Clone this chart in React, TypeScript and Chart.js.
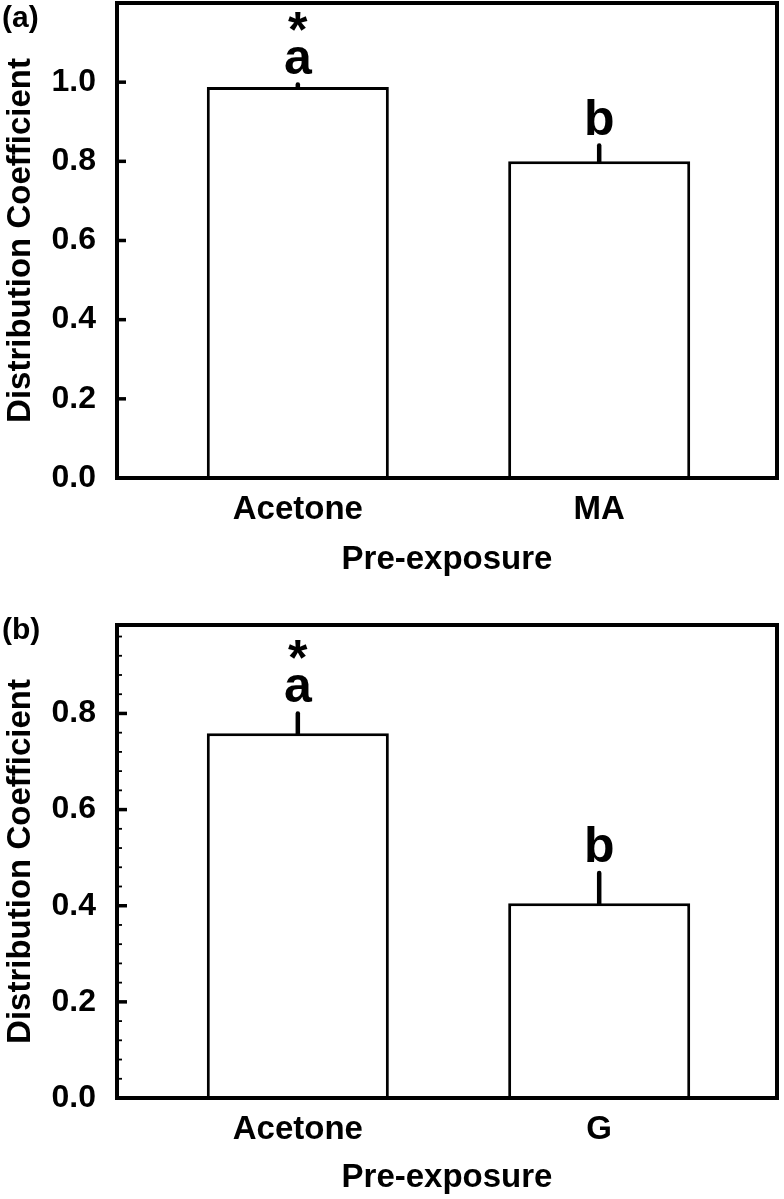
import React, { useEffect, useRef } from 'react';
import { Chart, registerables } from 'chart.js';

Chart.register(...registerables);

const FONT = '"Liberation Sans", Arial, Helvetica, sans-serif';
Chart.defaults.font.family = FONT;
Chart.defaults.color = '#000';

// ---------- data ----------
const xAxisTitle = 'Pre-exposure';
const yAxisTitle = 'Distribution Coefficient';

const categoriesA = ['Acetone', 'MA'];
const meansA = [0.988, 0.8];
const errorsA = [0.006, 0.04];
const lettersA = ['a', 'b'];
const marksA = ['*', ''];
const yMaxA = 1.2;

const categoriesB = ['Acetone', 'G'];
const meansB = [0.759, 0.405];
const errorsB = [0.041, 0.063];
const lettersB = ['a', 'b'];
const marksB = ['*', ''];
const yMaxB = 0.984;

const yStep = 0.2;
const minorStepB = 0.04;

type PanelCfg = {
  label: string;
  categories: string[];
  means: number[];
  errors: number[];
  letters: string[];
  marks: string[];
  yMax: number;
  minorStep: number | null;
  top: number;
  height: number;
  padTop: number;
  xAxisHeight: number;
  xTitlePad: number;
  labelBaseline: number;
  majorLen: number;
};

const panels: PanelCfg[] = [
  {
    label: '(a)', categories: categoriesA, means: meansA, errors: errorsA,
    letters: lettersA, marks: marksA, yMax: yMaxA, minorStep: null,
    top: 0, height: 600, padTop: 3, xAxisHeight: 122, xTitlePad: 24, labelBaseline: 27, majorLen: 9,
  },
  {
    label: '(b)', categories: categoriesB, means: meansB, errors: errorsB,
    letters: lettersB, marks: marksB, yMax: yMaxB, minorStep: minorStepB,
    top: 600, height: 599, padTop: 25, xAxisHeight: 101, xTitlePad: 5, labelBaseline: 39, majorLen: 10,
  },
];

function makePlugin(cfg: PanelCfg) {
  return {
    id: 'panelDecor' + cfg.label,
    afterDatasetsDraw(chart: any) {
      const { ctx, chartArea } = chart;
      const y = chart.scales.y;
      const meta = chart.getDatasetMeta(0);
      ctx.save();
      ctx.strokeStyle = '#000';
      ctx.fillStyle = '#000';

      // error bars + letters
      cfg.means.forEach((m, i) => {
        const bar = meta.data[i];
        if (!bar) return;
        const x = bar.x;
        const y0 = y.getPixelForValue(m);
        const y1 = y.getPixelForValue(m + cfg.errors[i]);
        ctx.beginPath();
        ctx.lineWidth = 4.5;
        ctx.lineCap = 'round';
        ctx.moveTo(x, y0);
        ctx.lineTo(x, y1);
        ctx.stroke();
        ctx.font = `bold 50px ${FONT}`;
        ctx.textAlign = 'center';
        ctx.textBaseline = 'alphabetic';
        const base = y1 - 11;
        ctx.fillText(cfg.letters[i], x, base);
        if (cfg.marks[i]) ctx.fillText(cfg.marks[i], x, base - 27);
      });

      // frame
      ctx.lineCap = 'butt';
      ctx.lineWidth = 4;
      ctx.strokeRect(chartArea.left, chartArea.top, chartArea.right - chartArea.left, chartArea.bottom - chartArea.top);

      // inward major ticks
      ctx.lineWidth = 3.5;
      y.ticks.forEach((t: any) => {
        const py = y.getPixelForValue(t.value);
        ctx.beginPath();
        ctx.moveTo(chartArea.left, py);
        ctx.lineTo(chartArea.left + cfg.majorLen, py);
        ctx.stroke();
      });
      // minor ticks
      if (cfg.minorStep) {
        ctx.lineWidth = 1.8;
        const n = Math.floor(cfg.yMax / cfg.minorStep + 1e-6);
        for (let k = 1; k <= n; k++) {
          const v = k * cfg.minorStep;
          if (Math.abs(v / yStep - Math.round(v / yStep)) < 1e-6) continue;
          const py = y.getPixelForValue(v);
          ctx.beginPath();
          ctx.moveTo(chartArea.left, py);
          ctx.lineTo(chartArea.left + 5, py);
          ctx.stroke();
        }
      }

      // panel label
      ctx.font = `bold 30px ${FONT}`;
      ctx.textAlign = 'left';
      ctx.textBaseline = 'alphabetic';
      ctx.fillText(cfg.label, 2, cfg.labelBaseline);
      ctx.restore();
    },
  };
}

function Panel({ cfg }: { cfg: PanelCfg }) {
  const ref = useRef<HTMLCanvasElement | null>(null);
  useEffect(() => {
    if (!ref.current) return;
    const chart = new Chart(ref.current, {
      type: 'bar',
      data: {
        datasets: [
          {
            data: cfg.categories.map((_, i) => ({ x: i + 1, y: cfg.means[i] })),
            backgroundColor: '#ffffff',
            borderColor: '#000000',
            borderWidth: 3,
            borderSkipped: 'start',
            categoryPercentage: 1,
            barPercentage: 0.604,
          } as any,
        ],
      },
      options: {
        animation: false,
        responsive: false,
        layout: { padding: { top: cfg.padTop, right: 7, left: 0, bottom: 0 } },
        plugins: { legend: { display: false }, tooltip: { enabled: false } },
        scales: {
          x: {
            type: 'linear',
            offset: false,
            min: 0.4,
            max: 2.59,
            grid: { display: false, drawTicks: false, offset: false },
            border: { display: false },
            afterBuildTicks: (s: any) => {
              s.ticks = cfg.categories.map((_, i) => ({ value: i + 1 }));
            },
            afterFit: (s: any) => {
              s.height = cfg.xAxisHeight;
              s.paddingLeft = 0;
              s.paddingRight = 0;
            },
            ticks: {
              autoSkip: false,
              maxRotation: 0,
              padding: 15,
              color: '#000',
              font: { size: 33, weight: 'bold', lineHeight: 1 },
              callback: (v: any) => cfg.categories[Math.round(Number(v)) - 1] ?? null,
            },
            title: {
              display: true,
              text: xAxisTitle,
              color: '#000',
              font: { size: 33, weight: 'bold', lineHeight: 1 },
              padding: { top: 0, bottom: cfg.xTitlePad },
            },
          },
          y: {
            type: 'linear',
            min: 0,
            max: cfg.yMax,
            grid: { display: false, drawTicks: false },
            border: { display: false },
            afterFit: (s: any) => {
              s.width = 117;
              s.paddingTop = 0;
              s.paddingBottom = 0;
            },
            ticks: {
              stepSize: yStep,
              includeBounds: false,
              padding: 21,
              color: '#000',
              font: { size: 32, weight: 'bold', lineHeight: 1.2 },
              callback: (v: any) =>
                Math.abs(Number(v) - cfg.yMax) < 1e-6 ? null : Number(v).toFixed(1),
            },
            title: {
              display: true,
              text: yAxisTitle,
              color: '#000',
              font: { size: 33, weight: 'bold', lineHeight: 1 },
              padding: { top: 4, bottom: 0 },
            },
          },
        },
      } as any,
      plugins: [makePlugin(cfg) as any],
    });
    return () => chart.destroy();
  }, [cfg]);
  return (
    <canvas
      ref={ref}
      width={784}
      height={cfg.height}
      style={{ position: 'absolute', left: 0, top: cfg.top, width: 784, height: cfg.height }}
    />
  );
}

export default function App() {
  return (
    <div style={{ position: 'absolute', left: 0, top: 0, width: 784, height: 1199, background: '#fff' }}>
      {panels.map((p) => (
        <Panel key={p.label} cfg={p} />
      ))}
    </div>
  );
}
